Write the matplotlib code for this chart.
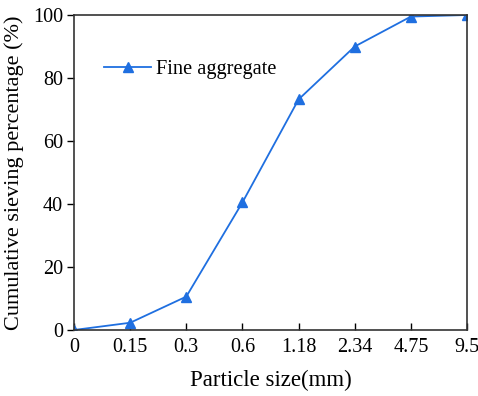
import numpy as np
import matplotlib
matplotlib.use("Agg")
import matplotlib.pyplot as plt

# sieve sizes (categorical, evenly spaced on the x axis)
sizes = ["0", "0.15", "0.3", "0.6", "1.18", "2.34", "4.75", "9.5"]
passing = [0, 2.3, 10.6, 40.5, 73.2, 90.0, 99.5, 100.0]
y_ticks = [0, 20, 40, 60, 80, 100]

plt.rcParams["font.family"] = ["Liberation Serif", "DejaVu Serif"]
plt.rcParams["font.size"] = 14.5

fig = plt.figure(figsize=(4.78, 3.96), dpi=100)
ax = fig.add_axes([74 / 478, 1 - 330 / 396, (467 - 74) / 478, (330 - 15) / 396])

x = np.arange(len(sizes))
ax.plot(x, passing, color="#1f6fe0", lw=1.3, marker="^", ms=7.5,
        label="Fine aggregate")

ax.set_xlim(0, len(sizes) - 1)
ax.set_ylim(0, 100)
ax.set_xticks(x)
ax.set_xticklabels(sizes)
ax.set_yticks(y_ticks)
ax.tick_params(axis="x", direction="in", length=5, width=1, pad=6)
ax.tick_params(axis="y", direction="out", length=5, width=1, pad=3)
for s in ax.spines.values():
    s.set_linewidth(1.2)
    s.set_color("#333333")

ax.set_xlabel("Particle size(mm)", fontsize=16.5, labelpad=9)
ax.set_ylabel("Cumulative sieving percentage (%)", fontsize=16, labelpad=6)

ax.legend(loc="upper left", bbox_to_anchor=(0.03, 0.915), frameon=False,
          fontsize=14.7, handlelength=2.3, handletextpad=0.25)

fig.savefig("out.png", dpi=100)
